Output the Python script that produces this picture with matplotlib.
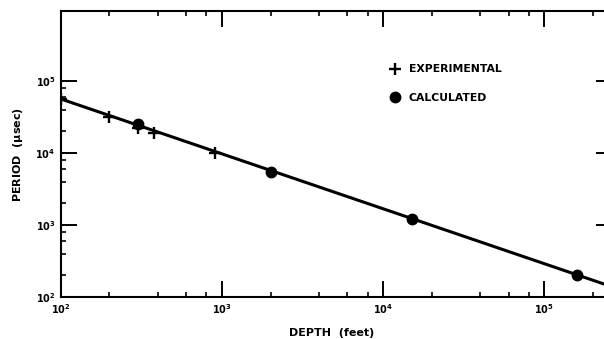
import math
import matplotlib
matplotlib.use('Agg')
import matplotlib.pyplot as plt
from matplotlib.ticker import LogLocator, FixedLocator, FuncFormatter, NullFormatter

# depth (feet) vs period (usec)
exp_depth = [100, 200, 300, 380, 900]
exp_period = [5.6e4, 3.2e4, 2.2e4, 1.9e4, 1.0e4]

calc_depth = [300, 2000, 15000, 160000]
calc_period = [2.5e4, 5.4e3, 1.2e3, 200]

fit_depth = [100, 2.6e5]
fit_period = [5.6e4, 140]

plt.rcParams['font.family'] = 'DejaVu Sans'
plt.rcParams['font.weight'] = 'bold'

fig = plt.figure(figsize=(6.04, 3.39), dpi=100)
ax = fig.add_axes([61/604, 42/339, 551/604, 286/339])

ax.plot(fit_depth, fit_period, color='black', lw=2.2, solid_capstyle='butt')
ax.plot(exp_depth, exp_period, ls='none', marker='+', ms=8.5, mew=1.7,
        color='black', label='EXPERIMENTAL')
ax.plot(calc_depth, calc_period, ls='none', marker='o', ms=7.5,
        color='black', label='CALCULATED')

ax.set_xscale('log')
ax.set_yscale('log')
ax.set_xlim(1e2, 10**5.42)
ax.set_ylim(1e2, 10**5.97)

ax.xaxis.set_major_locator(LogLocator(base=10))
ax.xaxis.set_minor_locator(LogLocator(base=10, subs=(2, 4, 6, 8)))
ax.yaxis.set_major_locator(FixedLocator([1e2, 1e3, 1e4, 1e5]))
ax.yaxis.set_minor_locator(FixedLocator([m * 10**e for e in (2, 3, 4) for m in (2, 4, 6, 8)]))
fmt = FuncFormatter(lambda v, pos: r'$\mathbf{10^{%d}}$' % round(math.log10(v)))
ax.xaxis.set_major_formatter(fmt)
ax.yaxis.set_major_formatter(fmt)
ax.xaxis.set_minor_formatter(NullFormatter())
ax.yaxis.set_minor_formatter(NullFormatter())

ax.tick_params(which='both', direction='in', top=True, right=True, labelsize=7)
ax.tick_params(which='major', length=11.5, width=1.4, pad=4)
ax.tick_params(which='minor', length=3.5, width=1.2)
for s in ax.spines.values():
    s.set_linewidth(1.5)

ax.set_xlabel('DEPTH  (feet)', fontsize=8, fontweight='bold')
ax.set_ylabel('PERIOD  ($\\mathbf{\\mu}$sec)', fontsize=8, fontweight='bold')
ax.xaxis.set_label_coords((332 - 61) / 551, -0.11)
ax.yaxis.set_label_coords(-(61 - 25) / 551, 0.5)

ax.legend(loc='upper left', bbox_to_anchor=(0.596, 0.813), frameon=False,
          borderpad=0, borderaxespad=0, handlelength=1, handletextpad=0.77,
          labelspacing=1.72, prop={'size': 7.8, 'weight': 'bold'})

fig.savefig('out.png', dpi=100)
